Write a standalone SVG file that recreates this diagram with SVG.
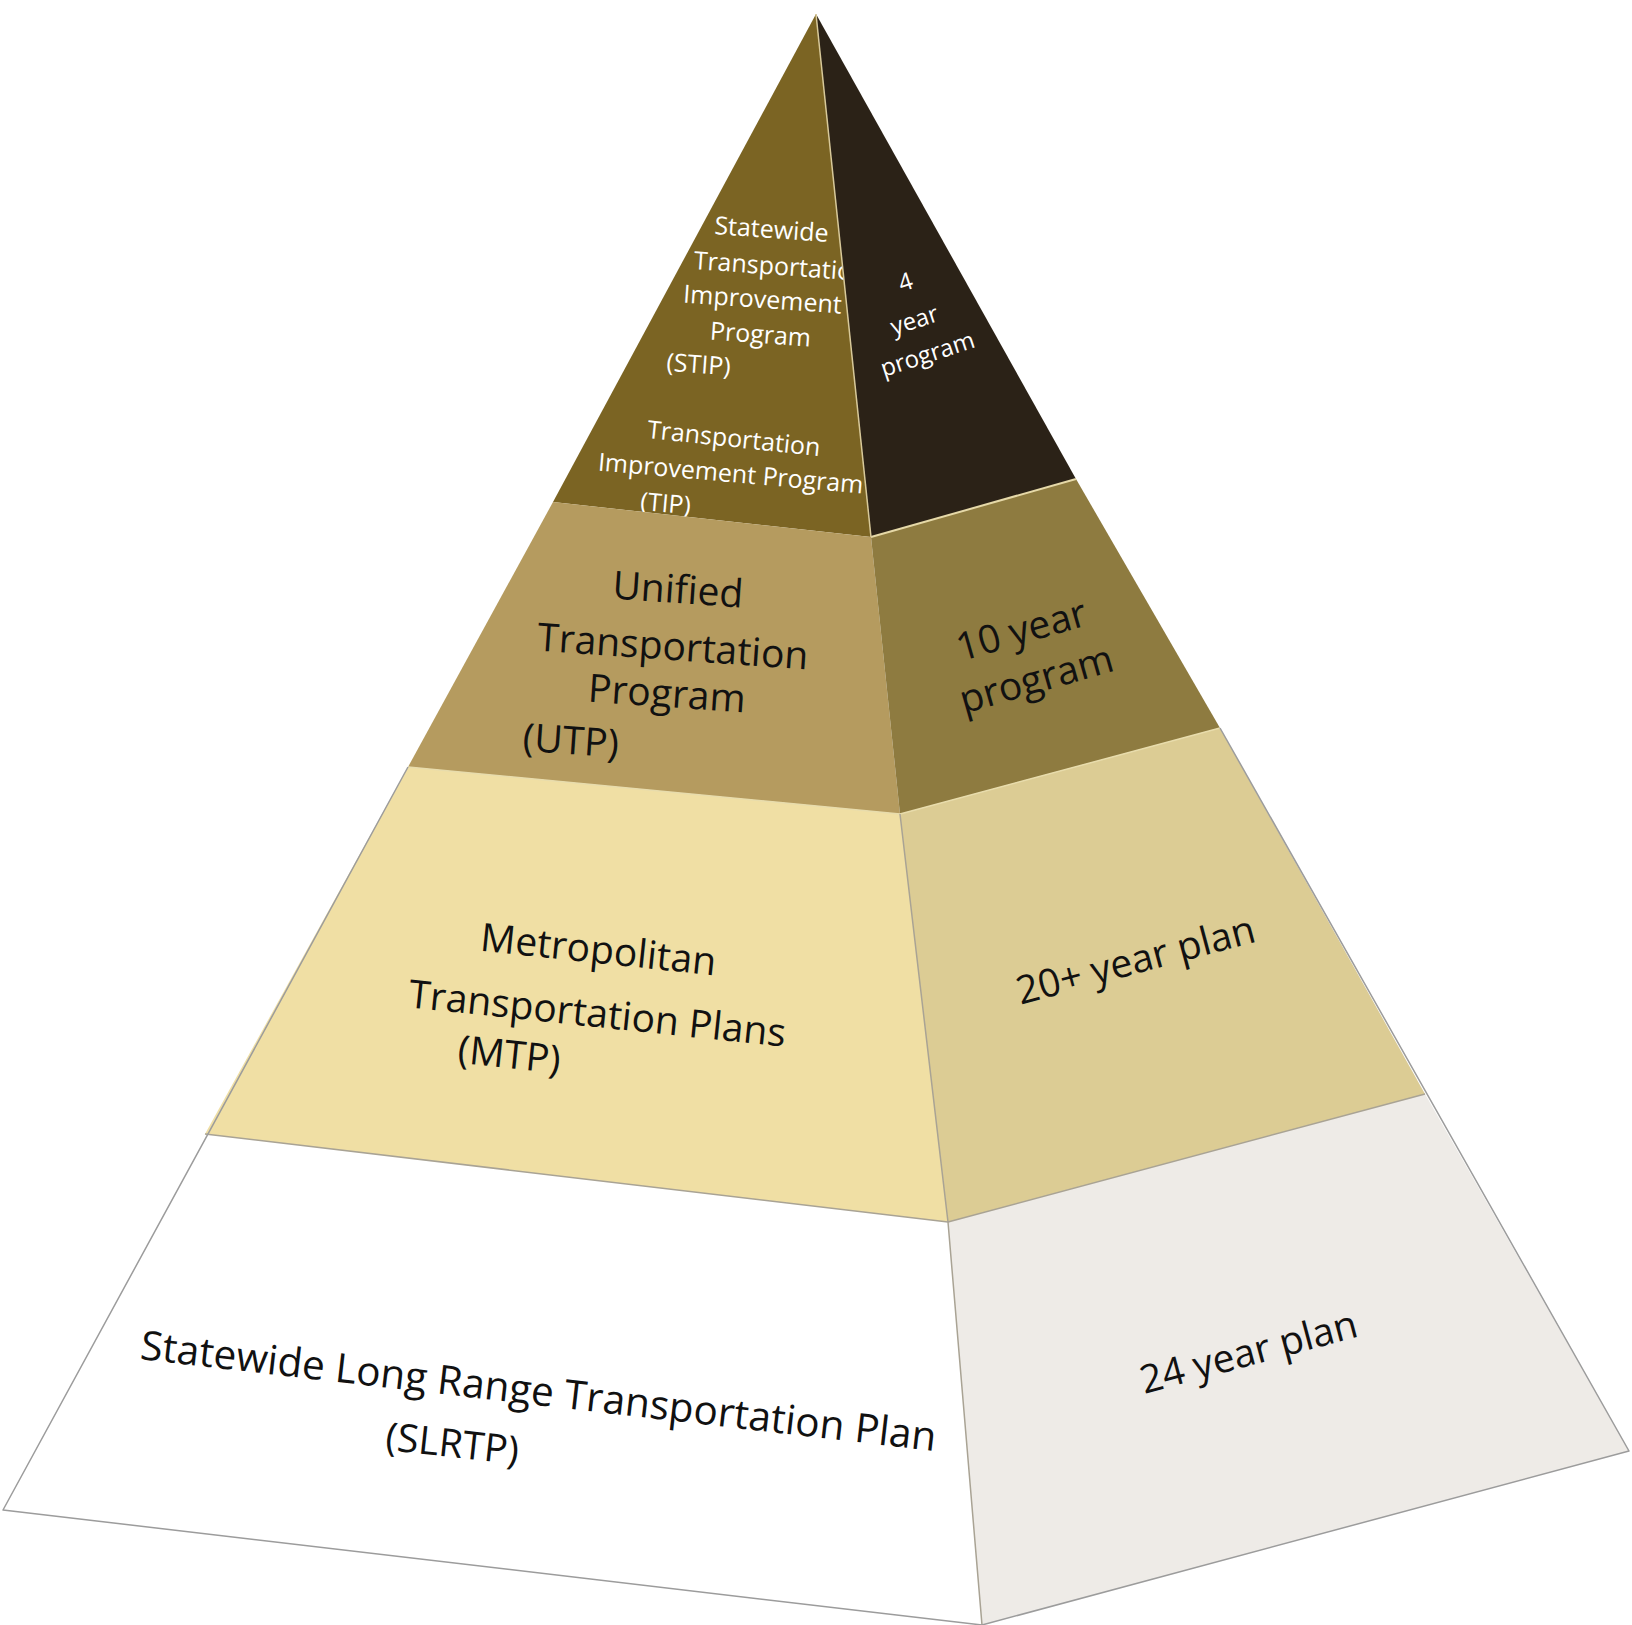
<svg xmlns="http://www.w3.org/2000/svg" width="1632" height="1625" viewBox="0 0 1632 1625">
<style>
.t{font-family:"Open Sans","Liberation Sans",sans-serif;text-anchor:middle}
.w{fill:#ffffff;font-size:25px}
.wr{fill:#ffffff;font-size:24px}
.b{fill:#111111;font-size:39px}
.edge{fill:none;stroke-linejoin:round}
</style>
<rect width="1632" height="1625" fill="#ffffff"/>
<g id="tier-stip">
<polygon points="816,14 553,502 871,537" fill="#7b6423"/>
<g class="t w">
<text x="771" y="238" transform="rotate(4 771 238)">Statewide</text>
<text x="780" y="275" transform="rotate(4 780 275)">Transportation</text>
<text x="762" y="308" transform="rotate(4 762 308)">Improvement</text>
<text x="760" y="343" transform="rotate(4 760 343)">Program</text>
<text x="698" y="373" transform="rotate(4 698 373)">(STIP)</text>
<text x="733" y="447" transform="rotate(6 733 447)">Transportation</text>
<text x="730" y="482" transform="rotate(5 730 482)">Improvement Program</text>
<text x="665" y="512" transform="rotate(5 665 512)">(TIP)</text>
</g>
<polygon points="816,14 871,537 1076,479" fill="#2b2217"/>
<g class="t wr">
<text x="908" y="290" transform="rotate(-18 908 290)">4</text>
<text x="917" y="328" transform="rotate(-18 917 328)">year</text>
<text x="930" y="362" transform="rotate(-18 930 362)">program</text>
</g>
</g>
<g id="tier-utp">
<polygon points="553,502 871,537 900,814 408,767" fill="#b59b5f"/>
<polygon points="871,537 1076,479 1220,728 900,814" fill="#8e7b40"/>
<g class="t b">
<text x="677" y="603" transform="rotate(4 677 603)">Unified</text>
<text x="672" y="660" transform="rotate(4 672 660)">Transportation</text>
<text x="666" y="707" transform="rotate(4 666 707)">Program</text>
<text x="570" y="754" transform="rotate(4 570 754)">(UTP)</text>
<text x="1025" y="643" transform="rotate(-16 1025 643)">10 year</text>
<text x="1040" y="692" transform="rotate(-16 1040 692)">program</text>
</g>
</g>
<g id="tier-mtp">
<polygon points="408,767 900,814 948,1222 205,1134" fill="#f0dfa4"/>
<polygon points="900,814 1220,728 1425,1094 948,1222" fill="#dccc94"/>
<g class="t b">
<text x="597" y="963" transform="rotate(6 597 963)">Metropolitan</text>
<text x="596" y="1027" transform="rotate(6 596 1027)">Transportation Plans</text>
<text x="508" y="1068" transform="rotate(6 508 1068)">(MTP)</text>
<text x="1139" y="973" transform="rotate(-15 1139 973)">20+ year plan</text>
</g>
</g>
<g id="tier-slrtp">
<polygon points="205,1134 948,1222 982,1625 3,1510" fill="#ffffff"/>
<polygon points="948,1222 1425,1094 1629,1451 982,1625" fill="#eeebe7"/>
<g class="t b">
<text x="537" y="1405" font-size="40.5" transform="rotate(6.6 537 1405)">Statewide Long Range Transportation Plan</text>
<text x="451" y="1457" transform="rotate(6.3 451 1457)">(SLRTP)</text>
<text x="1252" y="1365" transform="rotate(-15 1252 1365)">24 year plan</text>
</g>
</g>
<g id="connectors">
<polyline class="edge" points="871,537 1076,479" stroke="#e6d9a8" stroke-width="2"/>
<polyline class="edge" points="816,14 871,537" stroke="#d8c99a" stroke-width="1.5"/>
<polyline class="edge" points="408,767 900,814 1220,728" stroke="#e8dcac" stroke-width="1.5"/>
<polyline class="edge" points="205,1134 948,1222 1425,1094" stroke="#a9a394" stroke-width="1.5"/>
<polyline class="edge" points="900,814 948,1222 982,1625" stroke="#a9a394" stroke-width="1.5"/>
<polyline class="edge" points="408,767 3,1510 982,1625 1629,1451 1220,728" stroke="#9c9c9c" stroke-width="1.5"/>
</g>
</svg>
